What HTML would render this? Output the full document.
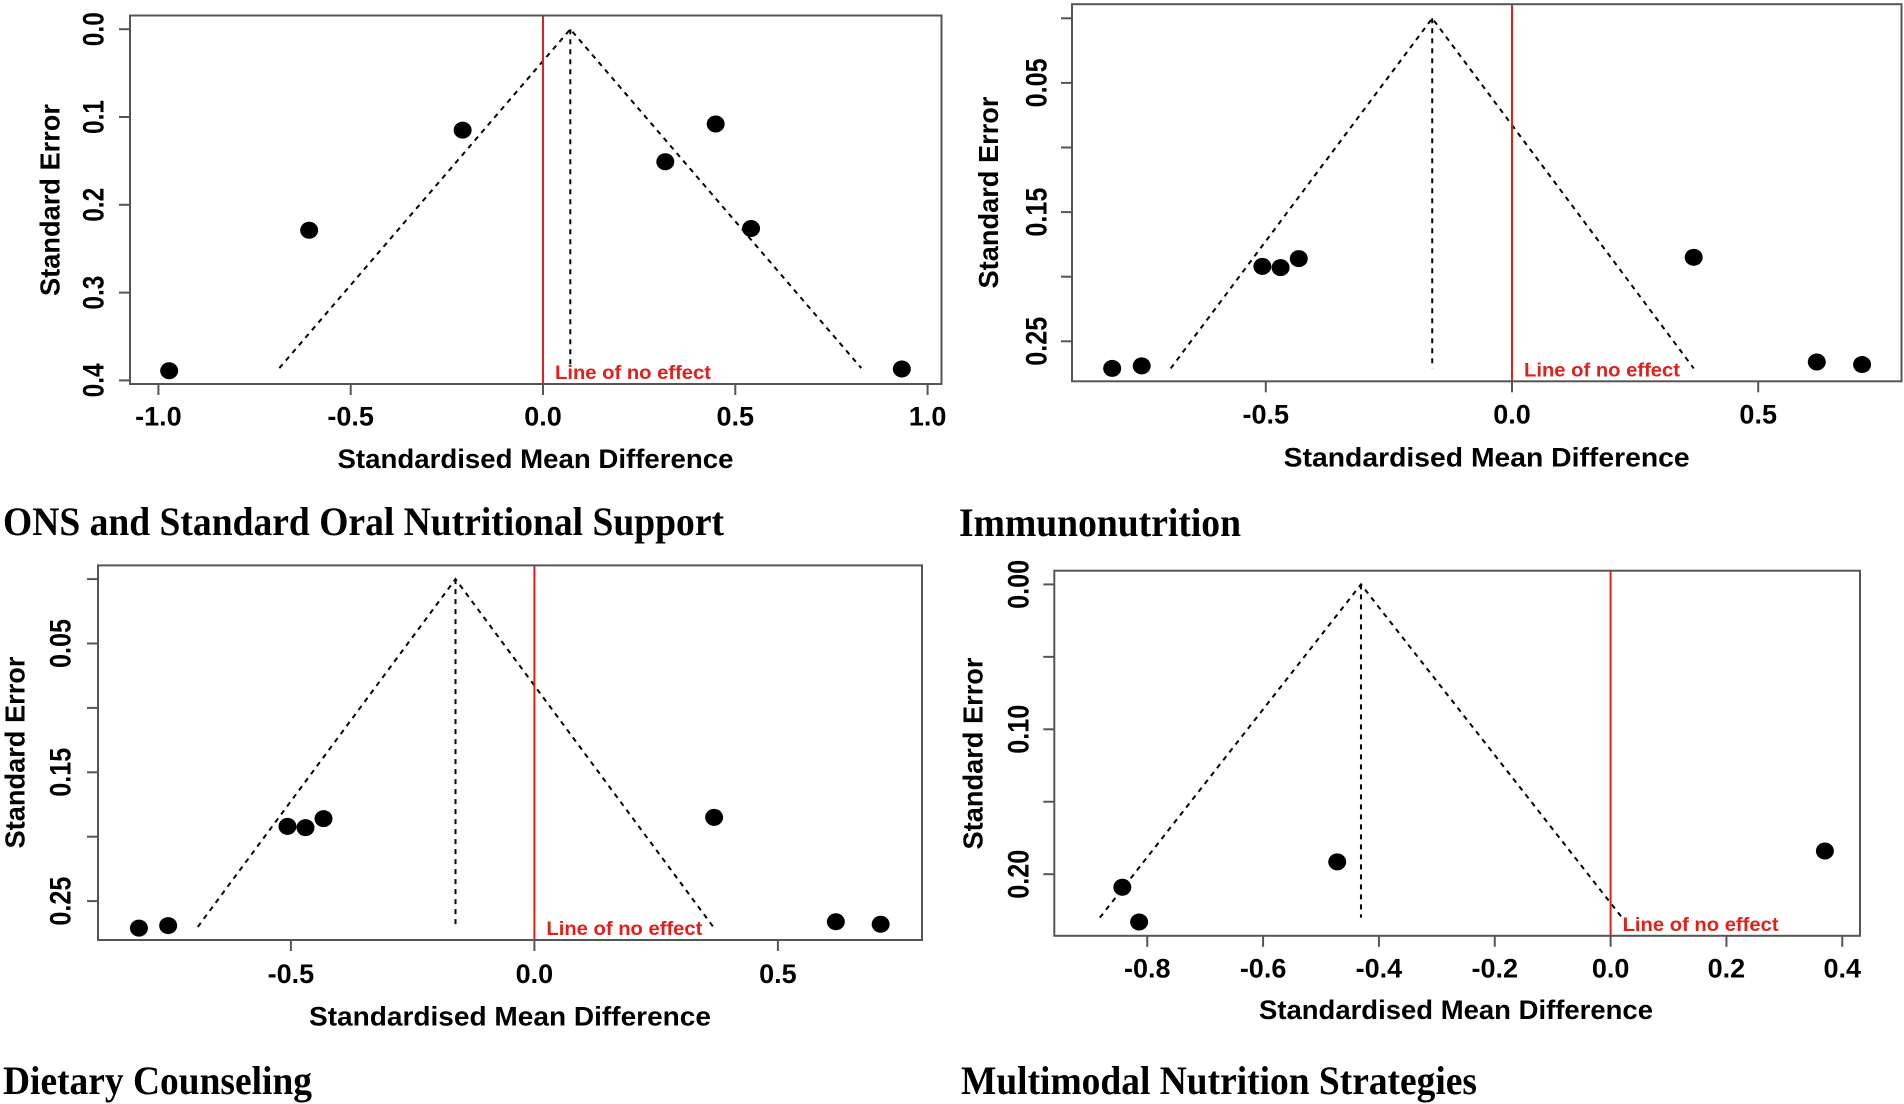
<!DOCTYPE html>
<html><head><meta charset="utf-8"><style>
html,body{margin:0;padding:0;background:#fff;}
svg{display:block;}
text{font-family:"Liberation Sans",sans-serif;font-weight:bold;}
</style></head>
<body>
<svg id="fig" width="1904" height="1104" viewBox="0 0 1904 1104" xmlns="http://www.w3.org/2000/svg"></svg>
<script>
// Panel 1: ONS and Standard Oral Nutritional Support
const p1Smd = [-0.972,-0.608,-0.209,0.449,0.318,0.541,0.933];
const p1Se = [0.389,0.229,0.115,0.108,0.151,0.227,0.387];
const p1XTicks = [-1,-0.5,0,0.5,1];
const p1XLabels = ["-1.0","-0.5","0.0","0.5","1.0"];
const p1YTicks = [0,0.1,0.2,0.3,0.4];
const p1YLabels = ["0.0","0.1","0.2","0.3","0.4"];
const p1Pooled = 0.071;
const p1SeMax = 0.386;
// Panel 2: Immunonutrition
const p2Smd = [-0.812,-0.752,-0.507,-0.470,-0.433,0.369,0.619,0.711];
const p2Se = [0.271,0.269,0.192,0.193,0.186,0.185,0.266,0.268];
const p2XTicks = [-0.5,0,0.5];
const p2XLabels = ["-0.5","0.0","0.5"];
const p2YTicks = [0,0.05,0.1,0.15,0.2,0.25];
const p2YLabels = ["","0.05","","0.15","","0.25"];
const p2Pooled = -0.162;
const p2SeMax = 0.271;
// Panel 3: Dietary Counseling
const p3Smd = [-0.812,-0.752,-0.507,-0.470,-0.433,0.369,0.619,0.711];
const p3Se = [0.271,0.269,0.192,0.193,0.186,0.185,0.266,0.268];
const p3XTicks = [-0.5,0,0.5];
const p3XLabels = ["-0.5","0.0","0.5"];
const p3YTicks = [0,0.05,0.1,0.15,0.2,0.25];
const p3YLabels = ["","0.05","","0.15","","0.25"];
const p3Pooled = -0.162;
const p3SeMax = 0.270;
// Panel 4: Multimodal Nutrition Strategies
const p4Smd = [-0.843,-0.814,-0.472,0.370];
const p4Se = [0.209,0.233,0.1915,0.184];
const p4XTicks = [-0.8,-0.6,-0.4,-0.2,0,0.2,0.4];
const p4XLabels = ["-0.8","-0.6","-0.4","-0.2","0.0","0.2","0.4"];
const p4YTicks = [0,0.05,0.1,0.15,0.2];
const p4YLabels = ["0.00","","0.10","","0.20"];
const p4Pooled = -0.431;
const p4SeMax = 0.230;

const NS = "http://www.w3.org/2000/svg";
const svg = document.getElementById('fig');
function mk(tag, attrs, parent, txt){
  const e = document.createElementNS(NS, tag);
  for (const k in attrs) e.setAttribute(k, attrs[k]);
  if (txt !== undefined) e.textContent = txt;
  (parent||svg).appendChild(e);
  return e;
}

function panel(c){
  const g = mk('g', {});
  
  
  const sx = v => c.x0 + v*c.xu;
  const sy = v => c.y0 + v*c.yu;
  const [L,T,R,B] = c.box;
  c.xTicks.forEach((v,i)=>{
    const t = mk('line',{x1:sx(v),x2:sx(v),y1:B,y2:B+11,stroke:'#555','stroke-width':2},g);
    
    
    const lb = mk('text',{x:sx(v),y:c.xlabY+10,'text-anchor':'middle','font-size':27,fill:'#000'},g,c.xLabels[i]);
    
    
  });
  c.yTicks.forEach((v,i)=>{
    const t = mk('line',{x1:L-11,x2:L,y1:sy(v),y2:sy(v),stroke:'#555','stroke-width':2},g);
    
    
    const s = c.yLabels[i];
    if (s){
      const len = s.length===3 ? 34 : 49;
      const lb = mk('text',{x:c.ylabX,y:sy(v),'text-anchor':'middle','dominant-baseline':'central','font-size':30,fill:'#000',textLength:len,lengthAdjust:'spacingAndGlyphs',transform:`rotate(-90 ${c.ylabX} ${sy(v)})`},g,s);
      
      
    }
  });
  const ax = sx(c.pooled), ay = sy(0), by = sy(c.seMax);
  const f = mk('polyline',{points:`${sx(c.pooled-1.96*c.seMax)},${by} ${ax},${ay} ${sx(c.pooled+1.96*c.seMax)},${by}`,fill:'none',stroke:'#000','stroke-width':2,'stroke-dasharray':'5,5'},g);
  
  
  const v = mk('line',{x1:ax,x2:ax,y1:ay,y2:by,stroke:'#000','stroke-width':2,'stroke-dasharray':'5,5'},g);
  
  
  const r = mk('line',{x1:sx(0),x2:sx(0),y1:T,y2:B,stroke:'#e0201b','stroke-width':2},g);
  
  
  const rt = mk('text',{x:sx(0)+12,y:B-5,'font-size':19,fill:'#e0201b',textLength:156,lengthAdjust:'spacingAndGlyphs'},g,'Line of no effect');
  
  
  c.smd.forEach((m,i)=>{
    const p = mk('ellipse',{cx:sx(m),cy:sy(c.se[i]),rx:9,ry:8.5,fill:'#000'},g);
    
    
  });
  const bx = mk('rect',{x:L,y:T,width:R-L,height:B-T,fill:'none',stroke:'#555','stroke-width':2},g);
  
  
  const xt = mk('text',{x:c.xtX,y:c.xtY,'text-anchor':'middle','font-size':27,fill:'#000',textLength:c.xtLen,lengthAdjust:'spacingAndGlyphs'},g,'Standardised Mean Difference');
  
  
  const yt = mk('text',{x:c.ytX,y:c.ytY,'text-anchor':'middle','dominant-baseline':'central','font-size':28,fill:'#000',textLength:192,lengthAdjust:'spacingAndGlyphs',transform:`rotate(-90 ${c.ytX} ${c.ytY})`},g,'Standard Error');
  
  
  const tt = mk('text',{x:c.tX,y:c.tY,'font-size':40,fill:'#000',textLength:c.tLen,lengthAdjust:'spacingAndGlyphs',style:'font-family:"Liberation Serif",serif;font-weight:bold'},g,c.title);
  
  
}

panel({name:'ons-panel',box:[130,15.5,941.5,384],x0:543,xu:384.6,y0:29.2,yu:878,
  smd:p1Smd,se:p1Se,xTicks:p1XTicks,xLabels:p1XLabels,yTicks:p1YTicks,yLabels:p1YLabels,pooled:p1Pooled,seMax:p1SeMax,
  ylabX:94,ytX:50,ytY:200,xlabY:415.5,xtX:535.5,xtY:468,xtLen:396,tX:3,tY:535,tLen:721,title:'ONS and Standard Oral Nutritional Support'});
panel({name:'immunonutrition-panel',box:[1072,4.2,1901.5,381.3],x0:1512,xu:492.4,y0:18.3,yu:1292,
  smd:p2Smd,se:p2Se,xTicks:p2XTicks,xLabels:p2XLabels,yTicks:p2YTicks,yLabels:p2YLabels,pooled:p2Pooled,seMax:p2SeMax,
  ylabX:1037,ytX:988.5,ytY:192.5,xlabY:413.7,xtX:1486.7,xtY:466.5,xtLen:406,tX:959,tY:536,tLen:282,title:'Immunonutrition'});
panel({name:'dietary-counseling-panel',box:[98,565.4,922,940],x0:534.4,xu:487,y0:579.1,yu:1288,
  smd:p3Smd,se:p3Se,xTicks:p3XTicks,xLabels:p3XLabels,yTicks:p3YTicks,yLabels:p3YLabels,pooled:p3Pooled,seMax:p3SeMax,
  ylabX:61,ytX:15,ytY:752.5,xlabY:972.8,xtX:510,xtY:1025.6,xtLen:402,tX:3,tY:1094,tLen:309,title:'Dietary Counseling'});
panel({name:'multimodal-panel',box:[1054.3,570.7,1860,935.8],x0:1610.6,xu:579.2,y0:584.4,yu:1449,
  smd:p4Smd,se:p4Se,xTicks:p4XTicks,xLabels:p4XLabels,yTicks:p4YTicks,yLabels:p4YLabels,pooled:p4Pooled,seMax:p4SeMax,
  ylabX:1019,ytX:973,ytY:753.5,xlabY:967.5,xtX:1456,xtY:1019,xtLen:394,tX:961,tY:1094,tLen:516,title:'Multimodal Nutrition Strategies'});
</script>
</body></html>
